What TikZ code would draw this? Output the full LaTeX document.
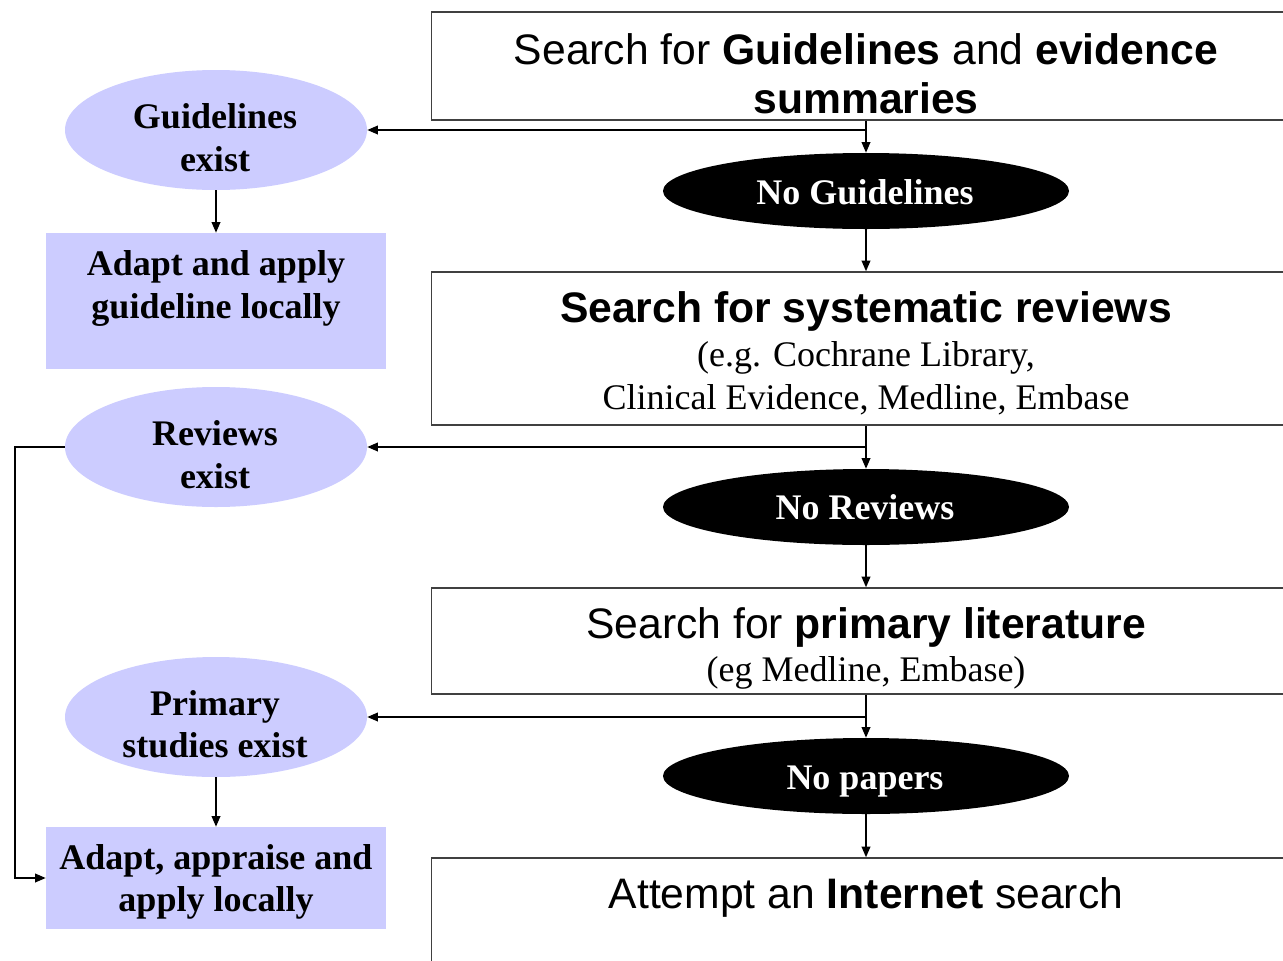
\documentclass[tikz,border=0pt]{standalone}
\usepackage{fontspec}
\setmainfont{Liberation Serif}
\newfontfamily\arialf{Liberation Sans}
\usetikzlibrary{shapes.geometric,arrows.meta}
\definecolor{lav}{HTML}{CCCCFF}
\definecolor{edge}{HTML}{404040}
\tikzset{
  x=0.75pt, y=-0.75pt,
  oval/.style={ellipse, fill=lav, draw=none, minimum width=226.5pt, minimum height=90pt, inner sep=0pt},
  blackoval/.style={ellipse, fill=black, draw=none, minimum width=304.5pt, minimum height=57pt, inner sep=0pt},
  actbox/.style={rectangle, fill=lav, draw=none, minimum width=255pt, inner sep=0pt},
  srch/.style={rectangle, draw=edge, line width=1.1pt, fill=white, minimum width=652pt, inner sep=0pt},
  tm/.style={anchor=base, inner sep=0pt, font=\fontsize{27}{32}\selectfont\bfseries},
  tmr/.style={anchor=base, inner sep=0pt, font=\fontsize{27}{32}\selectfont},
  ar/.style={anchor=base, inner sep=0pt, font=\arialf\fontsize{32}{38}\selectfont},
  arr/.style={draw=black, line width=1.25pt, -{Triangle[length=8pt,width=6.5pt]}},
  ln/.style={draw=black, line width=1.25pt}
}
\begin{document}
\begin{tikzpicture}
\useasboundingbox (0,0) rectangle (1283,961);
\clip (0,0) rectangle (1283,961);
\fill[white] (0,0) rectangle (1283,961);

% right column search boxes
\node[srch, minimum height=81pt] (b1) at (866,66) {};
\node[ar] (b1t1) at (866,64) {Search for \textbf{Guidelines} and \textbf{evidence}};
\node[ar] (b1t2) at (866,113) {\textbf{summaries}};

\node[blackoval] (n1) at (866,191) {};
\node[tm, text=white] (n1t) at (865,204) {No Guidelines};

\node[srch, minimum height=114.75pt] (b2) at (866,348.5) {};
\node[ar] (b2t1) at (866,322) {\textbf{Search for systematic reviews}};
\node[tmr] (b2t2) at (866,366) {(e.g. Cochrane Library,};
\node[tmr] (b2t3) at (866,409) {Clinical Evidence, Medline, Embase};

\node[blackoval] (n2) at (866,507) {};
\node[tm, text=white] (n2t) at (865,519) {No Reviews};

\node[srch, minimum height=79.5pt] (b3) at (866,641) {};
\node[ar] (b3t1) at (866,638) {Search for \textbf{primary literature}};
\node[tmr] (b3t2) at (866,681) {(eg Medline, Embase)};

\node[blackoval] (n3) at (866,776) {};
\node[tm, text=white] (n3t) at (865,789) {No papers};

\node[srch, minimum height=106.5pt] (b4) at (866,929) {};
\node[ar] (b4t1) at (866,908) {Attempt an \textbf{Internet} search};

% left column
\node[oval] (e1) at (216,130) {};
\node[tm] (e1t1) at (215,128) {Guidelines};
\node[tm] (e1t2) at (215,171) {exist};

\node[actbox, minimum height=102pt] (a1) at (216,301) {};
\node[tm] (a1t1) at (216,275) {Adapt and apply};
\node[tm] (a1t2) at (216,318) {guideline locally};

\node[oval] (e2) at (216,447) {};
\node[tm] (e2t1) at (215,445) {Reviews};
\node[tm] (e2t2) at (215,488) {exist};

\node[oval] (e3) at (216,717) {};
\node[tm] (e3t1) at (215,715) {Primary};
\node[tm] (e3t2) at (215,757) {studies exist};

\node[actbox, minimum height=76.5pt] (a2) at (216,878) {};
\node[tm] (a2t1) at (216,869) {Adapt, appraise and};
\node[tm] (a2t2) at (216,911) {apply locally};

% connectors
\coordinate (j1) at (b1.south |- e1.east);
\coordinate (j2) at (b2.south |- e2.east);
\coordinate (j3) at (b3.south |- e3.east);

\draw[arr] (b1.south) -- (n1.north);
\draw[arr] (j1) -- (e1.east);
\draw[arr] (e1.south) -- (a1.north);
\draw[arr] (n1.south) -- (b2.north);
\draw[arr] (b2.south) -- (n2.north);
\draw[arr] (j2) -- (e2.east);
\draw[arr] (e2.west) -- ++(-50,0) |- (a2.west);
\draw[arr] (n2.south) -- (b3.north);
\draw[arr] (b3.south) -- (n3.north);
\draw[arr] (j3) -- (e3.east);
\draw[arr] (e3.south) -- (a2.north);
\draw[arr] (n3.south) -- (b4.north);
\end{tikzpicture}
\end{document}
